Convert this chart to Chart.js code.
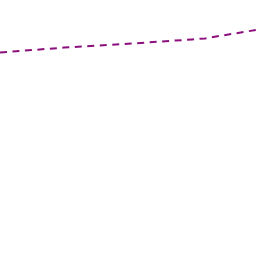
<!DOCTYPE html>
<html>
<head>
<meta charset="utf-8">
<script src="https://cdn.jsdelivr.net/npm/chart.js@4"></script>
<style>
  html, body { margin: 0; padding: 0; background: #fff; }
  #wrap { width: 256px; height: 256px; }
</style>
</head>
<body>
<div id="wrap"><canvas id="grafico"></canvas></div>
<script>
const posicoes = [0, 64, 128, 192, 205, 256];
const valores = [79.5, 81.4, 82.9, 84.6, 85.0, 88.3];

const grafico = new Chart(document.getElementById('grafico'), {
  type: 'line',
  data: {
    datasets: [{
      data: posicoes.map((x, i) => ({ x, y: valores[i] })),
      borderColor: '#8b0f7c',
      borderWidth: 2,
      borderDash: [7, 5.5],
      pointRadius: 0,
      tension: 0,
      fill: false
    }]
  },
  options: {
    responsive: true,
    maintainAspectRatio: false,
    animation: false,
    layout: { padding: 0 },
    plugins: { legend: { display: false }, tooltip: { enabled: false } },
    scales: {
      x: { type: 'linear', min: 0, max: 256, display: false },
      y: { min: 0, max: 100, display: false }
    }
  }
});
</script>
</body>
</html>
